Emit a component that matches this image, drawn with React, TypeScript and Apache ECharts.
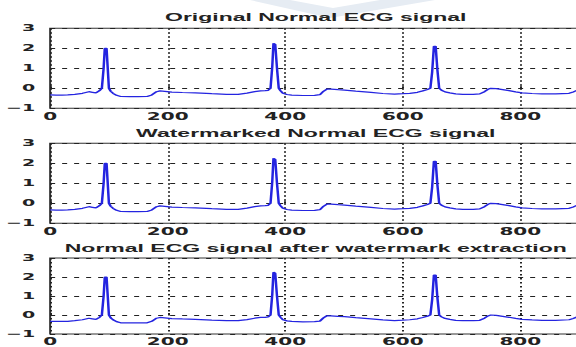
import React, { useEffect, useRef } from "react";
import * as echarts from "echarts";

const titles = [
  "Original Normal ECG signal",
  "Watermarked Normal ECG signal",
  "Normal ECG signal after watermark extraction",
];

const sampleX = [
  0, 10, 20, 30, 42, 55, 66, 72, 78, 84, 88, 91, 93, 96, 98, 100, 103, 107, 113, 120,
  135, 150, 165, 173, 181, 187, 195, 207, 225, 247, 275, 300, 320, 335, 348, 358, 366, 371, 375, 378,
  380, 383, 386, 389, 392, 396, 403, 411, 430, 450, 459, 465, 471, 478, 490, 501, 520, 546, 566, 586,
  600, 612, 625, 634, 642, 647, 650, 653, 656, 659, 662, 666, 672, 680, 690, 702, 720, 731, 739, 745,
  750, 759, 770, 781, 792, 803, 820, 837, 860, 883, 890, 897, 905,
];

const ecgOriginal = [
  -0.33, -0.34, -0.34, -0.33, -0.3, -0.25, -0.17, -0.2, -0.23, -0.12, 0.0, 1.0, 2.0, 2.0, 1.0, 0.0, -0.15, -0.25, -0.35, -0.41,
  -0.42, -0.42, -0.41, -0.33, -0.17, -0.13, -0.15, -0.19, -0.21, -0.23, -0.27, -0.3, -0.3, -0.24, -0.17, -0.13, -0.12, -0.1, 0.0, 1.1,
  2.25, 2.2, 1.0, 0.0, -0.12, -0.25, -0.31, -0.34, -0.36, -0.35, -0.32, -0.15, -0.04, -0.04, -0.07, -0.09, -0.14, -0.2, -0.26, -0.29,
  -0.27, -0.25, -0.2, -0.13, -0.06, 0.0, 0.8, 2.1, 2.1, 0.9, 0.0, -0.1, -0.18, -0.23, -0.28, -0.3, -0.3, -0.28, -0.17, -0.05,
  0.0, -0.02, -0.07, -0.12, -0.18, -0.23, -0.26, -0.28, -0.28, -0.25, -0.18, -0.1, -0.05,
];

const ecgWatermarked = [
  -0.33, -0.34, -0.34, -0.33, -0.3, -0.25, -0.17, -0.2, -0.23, -0.12, 0.0, 1.0, 2.0, 2.0, 1.0, 0.0, -0.15, -0.25, -0.35, -0.41,
  -0.42, -0.42, -0.41, -0.33, -0.17, -0.13, -0.15, -0.19, -0.21, -0.23, -0.27, -0.3, -0.3, -0.24, -0.17, -0.13, -0.12, -0.1, 0.0, 1.1,
  2.25, 2.2, 1.0, 0.0, -0.12, -0.25, -0.31, -0.34, -0.36, -0.35, -0.32, -0.15, -0.04, -0.04, -0.07, -0.09, -0.14, -0.2, -0.26, -0.29,
  -0.27, -0.25, -0.2, -0.13, -0.06, 0.0, 0.8, 2.1, 2.1, 0.9, 0.0, -0.1, -0.18, -0.23, -0.28, -0.3, -0.3, -0.28, -0.17, -0.05,
  0.0, -0.02, -0.07, -0.12, -0.18, -0.23, -0.26, -0.28, -0.28, -0.25, -0.18, -0.1, -0.05,
];

const ecgExtracted = [
  -0.33, -0.34, -0.34, -0.33, -0.3, -0.25, -0.17, -0.2, -0.23, -0.12, 0.0, 1.0, 2.0, 2.0, 1.0, 0.0, -0.15, -0.25, -0.35, -0.41,
  -0.42, -0.42, -0.41, -0.33, -0.17, -0.13, -0.15, -0.19, -0.21, -0.23, -0.27, -0.3, -0.3, -0.24, -0.17, -0.13, -0.12, -0.1, 0.0, 1.1,
  2.25, 2.2, 1.0, 0.0, -0.12, -0.25, -0.31, -0.34, -0.36, -0.35, -0.32, -0.15, -0.04, -0.04, -0.07, -0.09, -0.14, -0.2, -0.26, -0.29,
  -0.27, -0.25, -0.2, -0.13, -0.06, 0.0, 0.8, 2.1, 2.1, 0.9, 0.0, -0.1, -0.18, -0.23, -0.28, -0.3, -0.3, -0.28, -0.17, -0.05,
  0.0, -0.02, -0.07, -0.12, -0.18, -0.23, -0.26, -0.28, -0.28, -0.25, -0.18, -0.1, -0.05,
];

const xTickInterval = 200;
const xMin = 0;
const xMax = 905;
const yMin = -1;
const yMax = 3;

// layout (unscaled coordinates; the chart is stretched 2x horizontally)
const STRETCH = 2;
const CW = 320;
const CH = 347;
const gridLeft = 24.75;
const gridRight = 29;
const gridTops = [28.3, 143.3, 258];
const gridHeight = 80;
const titleTops = [11.5, 127, 242];

const INK = "#222";

export default function App() {
  const ref = useRef<HTMLDivElement>(null);

  useEffect(() => {
    if (!ref.current) return;
    const chart = echarts.init(ref.current, undefined, { renderer: "svg" });
    const seriesValues = [ecgOriginal, ecgWatermarked, ecgExtracted];
    const center = gridLeft + (CW - gridRight - gridLeft) / 2;

    const option: any = {
      animation: false,
      backgroundColor: "#fff",
      title: titles.map((t, i) => ({
        text: t,
        left: center,
        top: titleTops[i],
        textAlign: "center",
        padding: 0,
        textStyle: {
          fontFamily: "Liberation Sans",
          fontWeight: "bold",
          fontSize: 11.5,
          lineHeight: 12,
          color: INK,
        },
      })),
      graphic: [
        {
          type: "polygon",
          silent: true,
          z: -10,
          shape: {
            points: [
              [125, 0],
              [145, 0],
              [166.5, 8],
              [190, 0],
              [217.5, 0],
              [165, 18],
            ],
          },
          style: { fill: "#e6ecf3" },
        },
      ],
      grid: gridTops.map((top) => ({
        left: gridLeft,
        right: gridRight,
        top,
        height: gridHeight,
        show: true,
        borderColor: "#333",
        borderWidth: 1,
        backgroundColor: "transparent",
      })),
      xAxis: gridTops.map((_, i) => ({
        type: "value",
        gridIndex: i,
        min: xMin,
        max: xMax,
        interval: xTickInterval,
        axisLine: { show: false },
        axisTick: { show: true, inside: true, length: 2, lineStyle: { color: INK } },
        axisLabel: {
          margin: 3,
          showMaxLabel: false,
          fontFamily: "DejaVu Sans",
          fontWeight: "bold",
          fontSize: 10,
          color: INK,
        },
        splitLine: {
          show: true,
          lineStyle: { color: INK, width: 1, type: [1.5, 2.5] },
        },
      })),
      yAxis: gridTops.map((_, i) => ({
        type: "value",
        gridIndex: i,
        min: yMin,
        max: yMax,
        interval: 1,
        axisLine: { show: false },
        axisTick: { show: true, inside: true, length: 2, lineStyle: { color: INK } },
        axisLabel: {
          margin: 7.5,
          fontFamily: "DejaVu Sans",
          fontWeight: "bold",
          fontSize: 9.5,
          color: INK,
          formatter: (v: number) => (v < 0 ? "\u2212" + Math.abs(v) : String(v)),
        },
        splitLine: {
          show: true,
          lineStyle: { color: INK, width: 1, type: [2.5, 3.5] },
        },
      })),
      series: seriesValues.map((vals, i) => ({
        type: "line",
        xAxisIndex: i,
        yAxisIndex: i,
        showSymbol: false,
        symbol: "none",
        data: sampleX.map((x, j) => [x, vals[j]]),
        lineStyle: { color: "#2424e0", width: 1.25 },
        z: 3,
      })),
    };

    chart.setOption(option);
    return () => chart.dispose();
  }, []);

  return (
    <div
      style={{
        position: "fixed",
        left: 0,
        top: 0,
        width: 576,
        height: 347,
        overflow: "hidden",
        background: "#fff",
      }}
    >
      <div
        ref={ref}
        style={{
          width: CW,
          height: CH,
          transform: `scale(${STRETCH}, 1)`,
          transformOrigin: "0 0",
        }}
      />
    </div>
  );
}
